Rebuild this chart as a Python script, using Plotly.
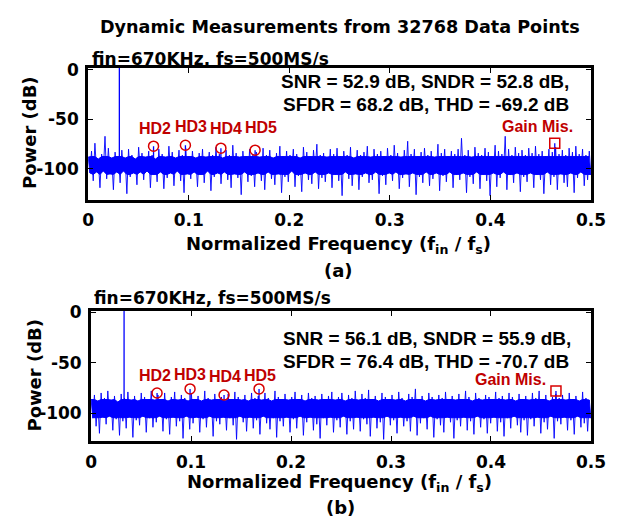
import numpy as np
import plotly.graph_objects as go

W, H = 634, 521

# ---------------- data ----------------
# panel (a): downsampled noise floor of the FFT spectrum (dB), evenly spaced over 0..0.5
noise_a = [
    -88, -104, -82, -112, -74, -103, -90, -119, -85, -102, -67, -110, -79, -105, -89, -121, -83, -103, -87, -114,
    -81, -102, -89, -125, -80, -108, -86, -104, -90, -116, -78, -103, -84, -111, -88, -102, -82, -119, -86, -106,
    -90, -113, -80, -103, -85, -120, -88, -109, -77, -104, -83, -117, -89, -102, -81, -112, -86, -124, -79, -105,
    -87, -110, -82, -103, -89, -118, -84, -106, -80, -114, -88, -102, -83, -122, -86, -108, -78, -104, -85, -115,
    -89, -103, -81, -111, -86, -119, -76, -105, -84, -109, -88, -126, -82, -103, -87, -113, -80, -107, -85, -118,
    -83, -104, -88, -112, -79, -121, -86, -103, -81, -110, -89, -116, -84, -105, -77, -124, -87, -108, -82, -113,
    -86, -102, -80, -118, -85, -107, -89, -123, -78, -104, -83, -111, -87, -115, -81, -103, -75, -120, -86, -109,
    -84, -113, -88, -104, -80, -119, -85, -106, -79, -112, -87, -127, -82, -103, -86, -110, -78, -117, -89, -105,
    -81, -121, -86, -108, -83, -104, -77, -114, -88, -111, -80, -103, -85, -125, -82, -107, -87, -116, -79, -104,
    -86, -112, -76, -103, -84, -120, -88, -109, -81, -105, -72, -118, -85, -104, -80, -126, -87, -108, -83, -114,
    -79, -103, -86, -117, -82, -110, -88, -104, -75, -122, -84, -107, -80, -113, -87, -103, -82, -119, -85, -106,
    -80, -111, -69, -104, -86, -124, -81, -108, -88, -115, -78, -103, -84, -120, -86, -106, -79, -112, -83, -127,
    -87, -104, -76, -118, -82, -109, -85, -103, -67, -121, -80, -106, -86, -114, -78, -104, -84, -123, -81, -108,
    -86, -113, -79, -104, -84, -119, -77, -106, -85, -111, -82, -125, -87, -103, -80, -116, -83, -108, -78, -121,
    -85, -105, -81, -114, -86, -118, -79, -104, -83, -124, -77, -109, -85, -103, -80, -117, -86, -111, -82, -106,
]
# panel (b)
noise_b = [
    -86, -105, -82, -113, -88, -120, -80, -104, -85, -111, -78, -103, -87, -117, -83, -106, -89, -122, -81, -108,
    -85, -115, -79, -104, -87, -124, -83, -107, -88, -112, -80, -103, -84, -119, -86, -105, -78, -114, -87, -109,
    -82, -103, -86, -118, -80, -106, -88, -121, -84, -104, -79, -113, -87, -108, -82, -125, -85, -103, -88, -116,
    -80, -110, -86, -104, -83, -119, -88, -106, -78, -114, -85, -103, -87, -123, -81, -108, -86, -111, -84, -104,
    -88, -117, -81, -105, -86, -112, -79, -126, -84, -103, -87, -109, -82, -118, -88, -104, -80, -115, -85, -107,
    -83, -121, -87, -103, -80, -110, -85, -116, -88, -105, -78, -124, -84, -108, -86, -113, -81, -104, -87, -119,
    -84, -106, -79, -115, -86, -103, -82, -122, -88, -109, -80, -104, -85, -117, -83, -111, -87, -125, -81, -105,
    -86, -112, -83, -104, -79, -119, -87, -107, -84, -114, -80, -103, -88, -121, -82, -108, -85, -116, -78, -104,
    -87, -118, -81, -106, -85, -111, -77, -123, -86, -104, -83, -115, -88, -109, -80, -126, -84, -103, -86, -112,
    -82, -107, -87, -120, -79, -104, -85, -113, -88, -108, -81, -118, -84, -103, -76, -122, -86, -110, -83, -105,
    -88, -116, -80, -103, -84, -124, -87, -106, -82, -112, -85, -119, -79, -104, -86, -109, -83, -125, -87, -107,
    -81, -113, -86, -104, -78, -117, -84, -108, -88, -121, -80, -103, -85, -114, -87, -106, -82, -120, -84, -110,
    -86, -104, -79, -118, -85, -109, -83, -123, -87, -105, -80, -115, -84, -103, -88, -112, -81, -119, -86, -107,
    -83, -122, -87, -106, -80, -113, -85, -104, -78, -120, -86, -109, -82, -116, -88, -103, -84, -125, -81, -108,
    -85, -111, -82, -104, -87, -117, -80, -107, -86, -121, -83, -103, -88, -114, -79, -110, -85, -118, -87, -105,
]

# tones: fundamental, HD2..HD5, gain-mismatch spur (normalized freq, dB)
fund_a = (0.031, 10)
hd_freq_a = [0.065, 0.0967, 0.132, 0.166]
hd_db_a = [-77, -76, -79, -81]
gm_a = (0.464, -74)

fund_b = (0.033, 10)
hd_freq_b = [0.066, 0.099, 0.133, 0.168]
hd_db_b = [-80, -76, -82, -76]
gm_b = (0.465, -78)

hd_labels = ["HD2", "HD3", "HD4", "HD5"]
x_ticks = [0, 0.1, 0.2, 0.3, 0.4, 0.5]
x_ticklabels = ["0", "0.1", "0.2", "0.3", "0.4", "0.5"]
y_ticks = [0, -50, -100]
y_ticklabels = ["0", "-50", "-100"]

title = "Dynamic Measurements from 32768 Data Points"
cond = "fin=670KHz, fs=500MS/s"
stats_a = ["SNR = 52.9 dB, SNDR = 52.8 dB,", "SFDR = 68.2 dB, THD = -69.2 dB"]
stats_b = ["SNR = 56.1 dB, SNDR = 55.9 dB,", "SFDR = 76.4 dB, THD = -70.7 dB"]

# ---------------- figure ----------------
BLUE = "#0000FF"
DRED = "#C00000"
MRED = "#D80000"
WIDE = "DejaVu Sans"
ARIAL = "Liberation Sans"


def px(x):
    return x / W


def py(y):
    return 1 - y / H


fig = go.Figure()


def add_panel(noise, fund, hdf, hdd, gm, xa, ya, core_hi, core_lo):
    xs = np.linspace(0, 0.5, len(noise))
    vals = np.array(noise, dtype=float)
    # dense core of the noise floor: band between the local upper and lower samples
    hi = np.clip(vals[0::2], core_hi - 2, core_hi + 1.5)
    lo = np.clip(vals[1::2], core_lo - 1.5, core_lo + 2)
    fig.add_trace(go.Scatter(x=xs[1::2], y=lo, mode="lines",
                             line=dict(color=BLUE, width=1, simplify=False),
                             xaxis=xa, yaxis=ya, showlegend=False, hoverinfo="skip"))
    fig.add_trace(go.Scatter(x=xs[0::2], y=hi, mode="lines", fill="tonexty", fillcolor=BLUE,
                             line=dict(color=BLUE, width=1, simplify=False),
                             xaxis=xa, yaxis=ya, showlegend=False, hoverinfo="skip"))
    # full spectrum line (spurs up and down)
    fig.add_trace(go.Scatter(x=xs, y=noise, mode="lines",
                             line=dict(color=BLUE, width=0.9, simplify=False),
                             xaxis=xa, yaxis=ya, showlegend=False, hoverinfo="skip"))
    tx, ty = [], []
    for f, d in [fund] + list(zip(hdf, hdd)) + [gm]:
        tx += [f, f, None]
        ty += [-100, d, None]
    fig.add_trace(go.Scatter(x=tx, y=ty, mode="lines", line=dict(color=BLUE, width=1.3, simplify=False),
                             xaxis=xa, yaxis=ya, showlegend=False, hoverinfo="skip"))
    fig.add_trace(go.Scatter(x=hdf, y=hdd, mode="markers",
                             marker=dict(symbol="circle-open", size=10, color=MRED, line=dict(width=1.5)),
                             xaxis=xa, yaxis=ya, showlegend=False, hoverinfo="skip"))
    fig.add_trace(go.Scatter(x=[gm[0]], y=[gm[1]], mode="markers",
                             marker=dict(symbol="square-open", size=10, color=MRED, line=dict(width=1.5)),
                             xaxis=xa, yaxis=ya, showlegend=False, hoverinfo="skip"))


add_panel(noise_a, fund_a, hd_freq_a, hd_db_a, gm_a, "x", "y", -89, -104)
add_panel(noise_b, fund_b, hd_freq_b, hd_db_b, gm_b, "x2", "y2", -88, -103)

axis_common = dict(showline=True, linewidth=3, linecolor="black", mirror="ticks",
                   ticks="inside", ticklen=5, tickwidth=1.2, tickcolor="black",
                   showgrid=False, zeroline=False, ticklabelstandoff=3,
                   tickfont=dict(family=WIDE, size=17, color="black", weight="bold"))

fig.update_layout(
    width=W, height=H, margin=dict(l=0, r=0, t=0, b=0),
    paper_bgcolor="white", plot_bgcolor="white",
    xaxis=dict(domain=[px(85), px(605)], range=[0, 0.5], anchor="y",
               tickvals=x_ticks, ticktext=x_ticklabels, **axis_common),
    yaxis=dict(domain=[py(194), py(60)], range=[-131, 2], anchor="x",
               tickvals=y_ticks, ticktext=y_ticklabels, **axis_common),
    xaxis2=dict(domain=[px(88), px(605)], range=[0, 0.5], anchor="y2",
                tickvals=x_ticks, ticktext=x_ticklabels, **axis_common),
    yaxis2=dict(domain=[py(440), py(307)], range=[-128, 1.5], anchor="x2",
                tickvals=y_ticks, ticktext=y_ticklabels, **axis_common),
)

ann = []


def text(s, x, y, size, family=WIDE, color="black", xanchor="center", angle=0):
    ann.append(dict(text="<b>" + s + "</b>", x=px(x), y=py(y), xref="paper", yref="paper",
                    xanchor=xanchor, yanchor="middle", showarrow=False, textangle=angle,
                    font=dict(family=family, size=size, color=color)))


text(title, 345, 18, 17.6)
xtitle = "Normalized Frequency (f<sub>in</sub> / f<sub>s</sub>)"

# panel (a)
text(cond, 87, 51, 17, xanchor="left")
text(stats_a[0], 584, 74, 19, family=ARIAL, xanchor="right")
text(stats_a[1], 584, 97, 19, family=ARIAL, xanchor="right")
for lab, cx, cy in zip(hd_labels, [154, 191, 228, 264], [122, 120, 122, 121]):
    text(lab, cx, cy, 16, family=ARIAL, color=DRED)
text("Gain Mis.", 550, 120, 16, family=ARIAL, color=DRED)
text(xtitle, 344, 240, 18)
text("(a)", 344, 266, 18)
text("Power (dB)", 25, 126, 18, angle=-90)

# panel (b)
text(cond, 89, 294, 17, xanchor="left")
text(stats_b[0], 586, 335, 19, family=ARIAL, xanchor="right")
text(stats_b[1], 584, 359, 19, family=ARIAL, xanchor="right")
for lab, cx, cy in zip(hd_labels, [154, 190, 226, 263], [373, 372, 374, 373]):
    text(lab, cx, cy, 16, family=ARIAL, color=DRED)
text("Gain Mis.", 522, 377, 16, family=ARIAL, color=DRED)
text(xtitle, 345, 482, 18)
text("(b)", 346, 507, 18)
text("Power (dB)", 30, 373, 18, angle=-90)

fig.update_layout(annotations=ann)
fig.write_html("out.html", config={"displayModeBar": False},
               post_script="document.body.style.margin='0';")
